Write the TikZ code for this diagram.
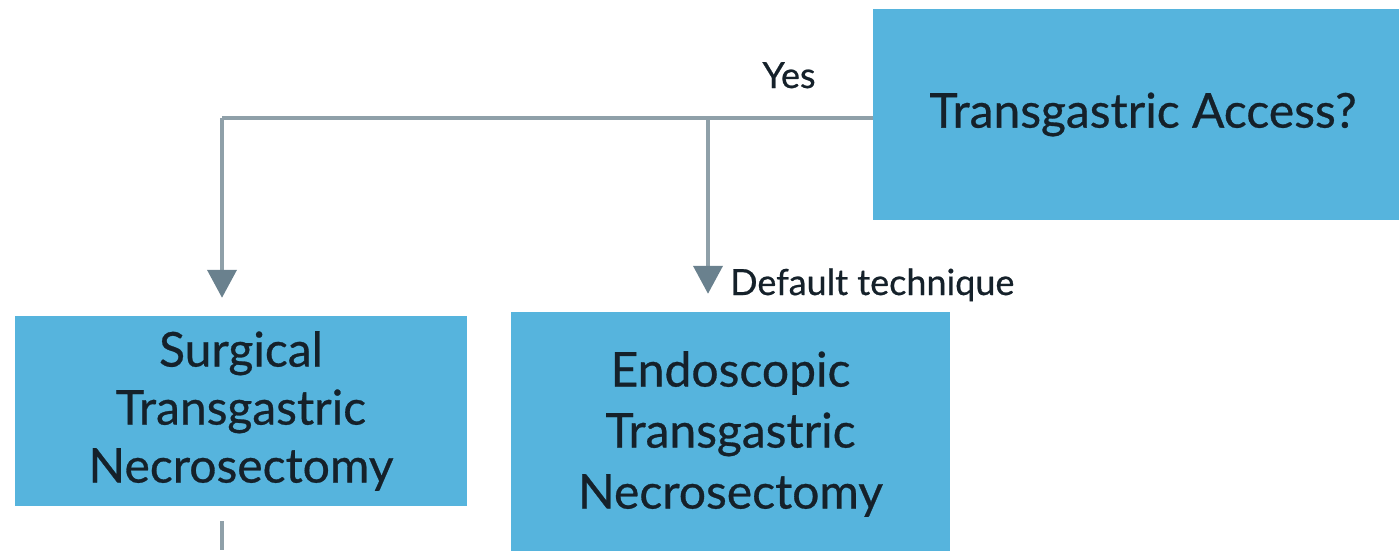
\documentclass[tikz,border=0pt]{standalone}
\usepackage{fontspec}
\setmainfont{Lato}
\newfontfamily\boxfont{Lato}[FakeBold=0.6]
\usepackage{tikz}
\usetikzlibrary{arrows.meta,positioning}
\definecolor{boxblue}{HTML}{56B4DD}
\definecolor{flowgray}{HTML}{8FA0A9}
\definecolor{tipgray}{HTML}{6A818E}
\definecolor{inkdark}{HTML}{15212A}

\begin{document}
\begin{tikzpicture}[x=1pt,y=-1pt,join=round,
    stepbox/.style={fill=boxblue,text=inkdark,align=center,inner sep=0pt},
    flowlabel/.style={text=inkdark,font=\boxfont\fontsize{36}{40}\selectfont,inner sep=0pt},
    flow/.style={draw=flowgray,line width=4pt},
    flowarrow/.style={flow,-{Triangle[width=29pt,length=28pt,color=tipgray]},shorten >=18pt}]
        \useasboundingbox (0,0) rectangle (1399,550);
        \clip (0,0) rectangle (1399,550);
        \node[stepbox,minimum width=540pt,minimum height=211pt,font=\boxfont\fontsize{48}{58}\selectfont]
                (access) at (1143,114.5) {Transgastric Access?};
        \node[stepbox,minimum width=452pt,minimum height=190pt,font=\boxfont\fontsize{48}{58}\selectfont]
                (surgical) at (241,411) {Surgical\\Transgastric\\Necrosectomy};
        \node[stepbox,minimum width=439pt,minimum height=244pt,font=\boxfont\fontsize{48}{61}\selectfont]
                (endo) at (730.5,434) {Endoscopic\\Transgastric\\Necrosectomy};
        \coordinate (jleft) at (222,118);
        \coordinate (jmid) at (708,118);
        \coordinate (sdown) at (222,550);
        \draw[flow] (access.west |- jmid) -- (jleft);
        \draw[flowarrow] (jleft) -- (jleft |- surgical.north);
        \draw[flowarrow] (jmid) -- (jmid |- endo.north);
        \draw[flow] (surgical.south -| sdown) ++(0,15) -- (sdown);
        \node[flowlabel,anchor=base] (yes) at (789,88) {Yes};
        \node[flowlabel,anchor=base west] (deflabel) at (730,295) {Default technique};
\end{tikzpicture}
\end{document}
